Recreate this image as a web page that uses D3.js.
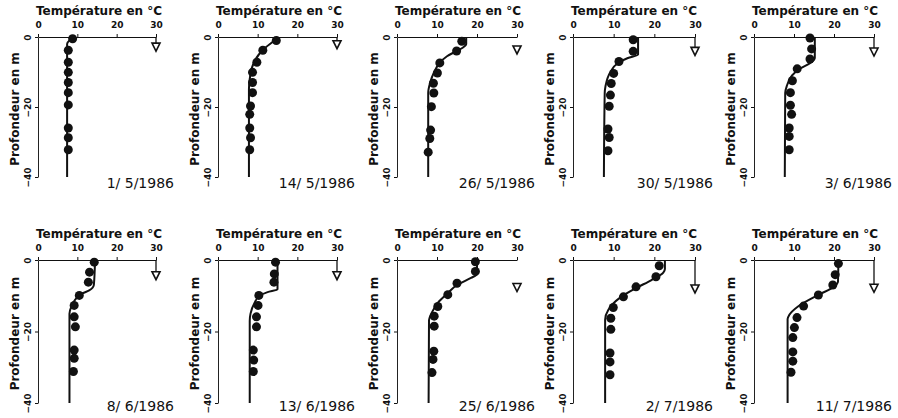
<!DOCTYPE html>
<html>
<head>
<meta charset="utf-8">
<script src="https://cdn.jsdelivr.net/npm/d3@7/dist/d3.min.js"></script>
<style>
  html, body { margin: 0; padding: 0; background: #fff; }
  svg { display: block; }
  text { fill: #111; }
</style>
</head>
<body>
<svg id="chart" width="898" height="418"></svg>
<script>
// Sampling dates (one panel each)
const dates = ["1/ 5/1986", "14/ 5/1986", "26/ 5/1986", "30/ 5/1986", "3/ 6/1986",
               "8/ 6/1986", "13/ 6/1986", "25/ 6/1986", "2/ 7/1986", "11/ 7/1986"];

// Measured profiles: depth (m below surface) and temperature (°C)
const dotDepths = [
  [0.5, 3.8, 7.2, 10.1, 13, 15.9, 19.4, 26, 28.8, 32.2],
  [1, 3.8, 7.2, 10.1, 13, 15.9, 19.7, 22.1, 26, 28.8, 32.2],
  [1.2, 4, 7.4, 10.3, 13.2, 16, 19.9, 26.6, 29, 32.9],
  [0.8, 4.1, 7, 10.4, 13.3, 16.6, 19.8, 26.3, 28.7, 32.5],
  [0.3, 3.4, 6.3, 9.1, 12.5, 15.9, 19.5, 22.1, 26, 28.4, 32.2],
  [0.6, 3.4, 6.2, 9.9, 12.7, 15.9, 18.7, 25.2, 27.5, 31.2],
  [0.6, 3.9, 6.2, 9.9, 12.7, 15.9, 18.7, 25.2, 28, 31.2],
  [0.5, 3.2, 6.5, 9.7, 13, 15.7, 18.5, 25.5, 27.8, 31.5],
  [1.6, 4.7, 7.5, 10.3, 13.3, 16.3, 19.4, 26, 28.5, 32.1],
  [1.0, 4.1, 7.0, 9.8, 12.9, 16.1, 18.9, 21.7, 25.7, 28.3, 31.4]
];
const dotTemps = [
  [8.8, 7.7, 7.7, 7.7, 7.7, 7.7, 7.7, 7.7, 7.7, 7.7],
  [14.7, 11.3, 9.8, 8.7, 8.7, 8.7, 8.2, 8.0, 8.0, 8.2, 8.0],
  [16.2, 14.9, 10.7, 10.1, 9.1, 9.2, 8.6, 8.4, 8.2, 7.8],
  [14.8, 14.8, 11.3, 10.0, 9.4, 9.2, 8.9, 8.6, 8.9, 8.6],
  [14.0, 14.4, 14.0, 10.8, 9.6, 9.1, 9.1, 9.4, 8.8, 8.8, 8.8],
  [14.3, 13.1, 12.8, 10.5, 9.2, 9.2, 9.5, 9.2, 9.2, 9.0],
  [14.5, 14.2, 14.1, 10.3, 10.1, 9.7, 9.7, 8.9, 9.0, 8.9],
  [19.6, 19.6, 15.0, 12.7, 10.2, 9.3, 9.3, 9.2, 9.0, 8.75],
  [21.2, 20.4, 15.5, 12.4, 9.9, 9.3, 9.3, 9.1, 9.1, 9.1],
  [21.1, 20.3, 19.7, 16.1, 12.4, 10.75, 10.1, 9.7, 9.7, 9.7, 9.25]
];

// Simulated profiles: depth (m) and temperature (°C)
const modelDepths = [
  [0, 1, 2, 40],
  [0, 1, 3, 5, 8, 12, 15, 40],
  [0, 2, 3, 4, 5.5, 7.5, 10, 13, 16, 40],
  [0, 5, 6, 7.5, 10, 14, 16, 40],
  [0, 6, 7.5, 9, 11, 14, 16, 40],
  [0, 7, 8.5, 9.5, 11, 13, 15, 40],
  [0, 8.2, 9, 10, 12, 15, 17, 40],
  [0, 4, 5, 7, 9.5, 12, 14.5, 17, 40],
  [0, 2.5, 3.5, 5.6, 7.8, 10.6, 13.9, 16.7, 40],
  [0, 6, 7.5, 9.8, 13, 15.4, 16.5, 40]
];
const modelTemps = [
  [9.5, 8.0, 7.4, 7.4],
  [15.0, 14.2, 12.0, 10.3, 8.8, 8.0, 7.8, 7.8],
  [17.3, 17.3, 16.5, 14.9, 12.5, 10.6, 9.3, 8.3, 7.8, 7.8],
  [16.0, 16.0, 13.5, 11.0, 9.2, 8.0, 7.8, 7.6],
  [15.2, 15.2, 14.0, 11.5, 9.5, 8.2, 7.8, 7.7],
  [14.5, 14.2, 13.0, 11.0, 9.5, 8.5, 8.0, 8.0],
  [15.0, 15.0, 12.5, 10.5, 9.2, 8.2, 8.0, 8.0],
  [20.0, 20.0, 18.5, 15.0, 12.5, 10.2, 8.8, 8.0, 7.9],
  [22.6, 22.6, 22.2, 19.3, 15.6, 11.5, 8.7, 7.9, 7.9],
  [21.1, 21.0, 20.0, 16.0, 11.0, 8.8, 8.4, 8.4]
];

// Transparency (Secchi) depth in m, and whether its drop line is drawn
const secchiDepths = [2.9, 2.2, 3.7, 4.1, 4.3, 4.4, 4.4, 7.7, 8.1, 7.9];
const secchiStem = [true, true, false, true, true, true, true, false, true, true];

const tempTicks = [0, 10, 20, 30];
const depthTicks = [0, -20, -40];
const xTitle = "Température en °C";
const yTitle = "Profondeur en m";

// ---- layout ----
const colX0 = [38, 218, 397, 573, 754];
const colX30 = [156, 337, 517, 695, 874];
const rowY0 = [37, 260];
const rowY40 = [177, 403];

const svg = d3.select("#chart");
svg.append("rect").attr("width", 898).attr("height", 418).attr("fill", "#fff");

const labelFont = "'DejaVu Sans', sans-serif";

dates.forEach((date, i) => {
  const row = Math.floor(i / 5), col = i % 5;
  const x = d3.scaleLinear().domain([0, 30]).range([colX0[col], colX30[col]]);
  const y = d3.scaleLinear().domain([0, -40]).range([rowY0[row], rowY40[row]]);
  const g = svg.append("g");

  // temperature axis along the surface
  const ax = g.append("g")
    .attr("transform", `translate(0,${y(0)})`)
    .call(d3.axisTop(x).tickValues(tempTicks).tickSize(3).tickSizeOuter(0).tickPadding(6).tickFormat(d3.format("d")));
  ax.select(".domain").attr("stroke", "#111").attr("stroke-width", 1.1);
  ax.selectAll(".tick line").attr("stroke", "#111");
  ax.selectAll("text").attr("font-family", labelFont).attr("font-weight", "bold")
    .attr("font-size", 9).attr("fill", "#111");

  // depth axis
  const ay = g.append("g")
    .attr("transform", `translate(${x(0)},0)`)
    .call(d3.axisLeft(y).tickValues(depthTicks).tickSize(3).tickSizeOuter(0).tickFormat(d3.format("d")));
  ay.select(".domain").attr("stroke", "#222").attr("stroke-width", 1);
  ay.selectAll(".tick line").attr("stroke", "#111");
  ay.selectAll("text")
    .attr("x", null).attr("dy", null)
    .attr("text-anchor", "middle")
    .attr("transform", "translate(-7,0) rotate(-90)")
    .attr("font-family", labelFont).attr("font-weight", "bold")
    .attr("font-size", 9).attr("fill", "#111");

  // axis titles
  g.append("text")
    .attr("x", x(0) + 61).attr("y", y(0) - 22)
    .attr("text-anchor", "middle")
    .attr("font-family", labelFont).attr("font-weight", "bold").attr("font-size", 12)
    .text(xTitle);
  g.append("text")
    .attr("transform", `translate(${x(0) - 19},${y(-20) + 2}) rotate(-90)`)
    .attr("text-anchor", "middle")
    .attr("font-family", labelFont).attr("font-weight", "bold").attr("font-size", 12)
    .text(yTitle);

  // transparency marker
  const sy = y(-secchiDepths[i]);
  if (secchiStem[i]) {
    g.append("line")
      .attr("x1", x(30)).attr("x2", x(30))
      .attr("y1", y(0)).attr("y2", sy - 4)
      .attr("stroke", "#111").attr("stroke-width", 1.3);
  }
  g.append("path")
    .attr("d", `M${x(30) - 4},${sy - 4}L${x(30) + 4},${sy - 4}L${x(30)},${sy + 4}Z`)
    .attr("fill", "#fff").attr("stroke", "#111").attr("stroke-width", 1.6);

  // simulated profile
  const model = modelDepths[i].map((d, k) => [d, modelTemps[i][k]]);
  g.append("path")
    .datum(model)
    .attr("fill", "none").attr("stroke", "#111").attr("stroke-width", 2)
    .attr("d", d3.line().x(d => x(d[1])).y(d => y(-d[0])).curve(d3.curveMonotoneY));

  // measured points
  const pts = dotDepths[i].map((d, k) => [d, dotTemps[i][k]]);
  g.selectAll("circle.obs").data(pts).join("circle")
    .attr("class", "obs")
    .attr("cx", d => x(d[1])).attr("cy", d => y(-d[0]))
    .attr("r", 4.5).attr("fill", "#111");

  // date label
  g.append("text")
    .attr("x", x(30) + 18).attr("y", row === 0 ? 188 : 411)
    .attr("text-anchor", "end")
    .attr("font-family", labelFont).attr("font-size", 14)
    .text(date);
});
</script>
</body>
</html>
